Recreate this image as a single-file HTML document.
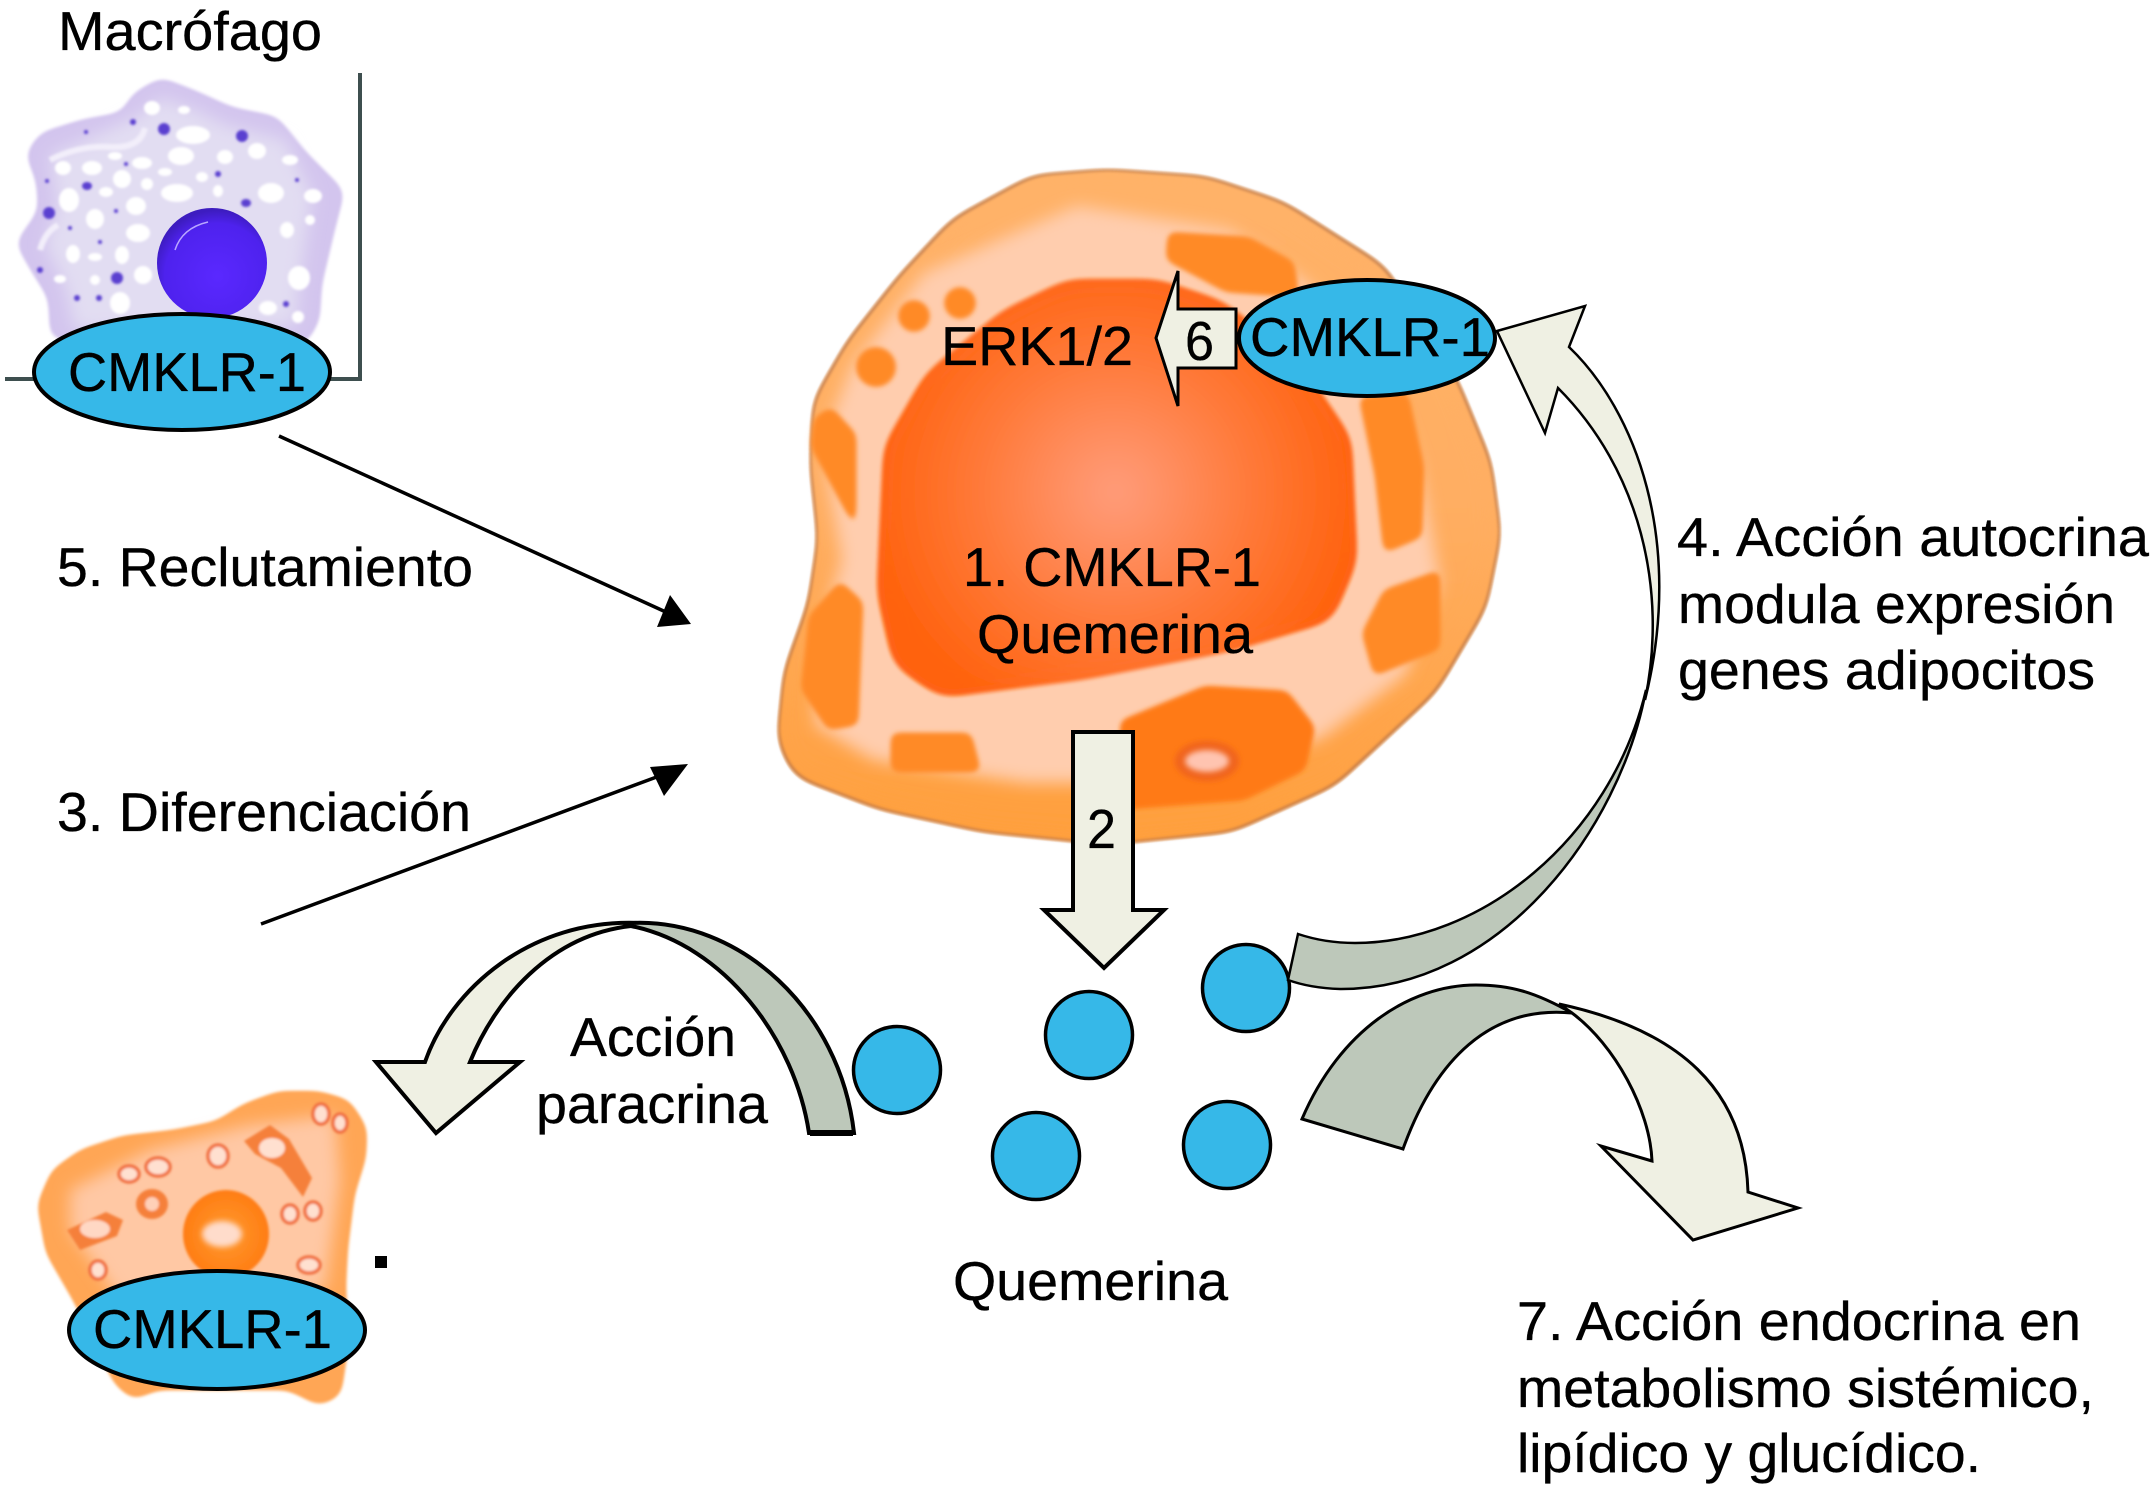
<!DOCTYPE html>
<html><head><meta charset="utf-8"><style>
html,body{margin:0;padding:0;background:#fff}
svg{display:block}
text{font-family:"Liberation Sans",sans-serif;font-size:55px;fill:#000;stroke:#000;stroke-width:.35px}
</style></head><body>
<svg xmlns="http://www.w3.org/2000/svg" width="2153" height="1486" viewBox="0 0 2153 1486">
<defs>
<filter id="r" x="-10%" y="-10%" width="120%" height="120%"><feGaussianBlur stdDeviation="13"/><feComponentTransfer><feFuncA type="linear" slope="6" intercept="-2.2"/></feComponentTransfer><feGaussianBlur stdDeviation="1"/></filter>
<filter id="rim" x="-10%" y="-10%" width="120%" height="120%"><feGaussianBlur stdDeviation="13"/><feComponentTransfer result="s"><feFuncA type="linear" slope="8" intercept="-3"/></feComponentTransfer><feMorphology in="s" operator="erode" radius="2" result="e"/><feFlood flood-color="#a5684a" flood-opacity=".75"/><feComposite in2="s" operator="in" result="d"/><feComposite in="d" in2="e" operator="out" result="edge"/><feGaussianBlur in="edge" stdDeviation=".7" result="eb"/><feMerge><feMergeNode in="s"/><feMergeNode in="eb"/></feMerge></filter>
<filter id="r2" x="-10%" y="-10%" width="120%" height="120%"><feGaussianBlur stdDeviation="8"/><feComponentTransfer><feFuncA type="linear" slope="6" intercept="-2.2"/></feComponentTransfer><feGaussianBlur stdDeviation="1"/></filter>
<filter id="rs" x="-30%" y="-30%" width="160%" height="160%"><feGaussianBlur stdDeviation="5"/><feComponentTransfer><feFuncA type="linear" slope="5" intercept="-1.8"/></feComponentTransfer><feGaussianBlur stdDeviation="2"/></filter>
<filter id="b1" x="-50%" y="-50%" width="200%" height="200%"><feGaussianBlur stdDeviation="1.4"/></filter>
<filter id="b3" x="-50%" y="-50%" width="200%" height="200%"><feGaussianBlur stdDeviation="3"/></filter>
<filter id="b8" x="-20%" y="-20%" width="140%" height="140%"><feGaussianBlur stdDeviation="8"/></filter>
<radialGradient id="nuc" gradientUnits="userSpaceOnUse" cx="1113" cy="489" r="255"><stop offset="0" stop-color="#ff9d7c"/><stop offset="0.55" stop-color="#ff7a3a"/><stop offset="1" stop-color="#ff620e"/></radialGradient>
<radialGradient id="mn" cx="0.55" cy="0.62" r="0.6"><stop offset="0" stop-color="#5a28ff"/><stop offset="0.8" stop-color="#4e22ee"/><stop offset="1" stop-color="#3d1cc0"/></radialGradient>
<radialGradient id="sm" cx="0.5" cy="0.5" r="0.55"><stop offset="0" stop-color="#ff9a30"/><stop offset="1" stop-color="#ff7a10"/></radialGradient>
<linearGradient id="rg" x1="0" y1="0" x2="0" y2="1"><stop offset="0" stop-color="#ffb268"/><stop offset="0.5" stop-color="#ffae62"/><stop offset="1" stop-color="#ff9f3c"/></linearGradient>
</defs>

<!-- macrophage frame -->
<path d="M360 73V379H5" fill="none" stroke="#3e4f4f" stroke-width="4"/>
<!-- macrophage cell -->
<polygon filter="url(#r2)" fill="#d3c5ee" points="161,78 133,94 122,113 83,120 41,133 26,154 37,181 39,211 16,243 32,271 49,298 51,339 305,344 319,321 321,285 333,234 344,191 305,152 277,117 232,108 197,92"/>
<polygon filter="url(#b8)" fill="#e2ddf2" points="161,98 140,115 90,138 50,155 58,205 45,245 65,285 75,330 295,325 300,280 312,195 285,140 225,125 195,110"/>
<g fill="#fff" stroke="#fff" stroke-width="2" filter="url(#b1)">
<ellipse cx="193" cy="135" rx="16" ry="8"/><ellipse cx="181" cy="156" rx="12" ry="8"/><ellipse cx="92" cy="168" rx="9" ry="6"/><ellipse cx="63" cy="168" rx="7" ry="6"/><ellipse cx="122" cy="179" rx="8" ry="8"/><ellipse cx="142" cy="163" rx="9" ry="5"/><ellipse cx="225" cy="157" rx="7" ry="6"/><ellipse cx="257" cy="151" rx="8" ry="7"/><ellipse cx="290" cy="160" rx="7" ry="4"/><ellipse cx="177" cy="193" rx="15" ry="8"/><ellipse cx="271" cy="193" rx="12" ry="9"/><ellipse cx="313" cy="196" rx="8" ry="6"/><ellipse cx="69" cy="200" rx="9" ry="11"/><ellipse cx="136" cy="206" rx="9" ry="8"/><ellipse cx="95" cy="219" rx="8" ry="9"/><ellipse cx="138" cy="233" rx="11" ry="8"/><ellipse cx="73" cy="254" rx="6" ry="8"/><ellipse cx="122" cy="255" rx="6" ry="8"/><ellipse cx="143" cy="275" rx="8" ry="8"/><ellipse cx="287" cy="230" rx="6" ry="7"/><ellipse cx="299" cy="278" rx="10" ry="11"/><ellipse cx="268" cy="308" rx="8" ry="6"/><ellipse cx="120" cy="303" rx="9" ry="10"/><ellipse cx="298" cy="317" rx="5" ry="5"/><ellipse cx="60" cy="279" rx="5" ry="3"/><ellipse cx="95" cy="280" rx="4" ry="4"/><ellipse cx="218" cy="191" rx="4" ry="5"/><ellipse cx="147" cy="184" rx="5" ry="5"/><ellipse cx="106" cy="192" rx="6" ry="4"/><ellipse cx="202" cy="177" rx="5" ry="4"/><ellipse cx="165" cy="172" rx="6" ry="3"/><ellipse cx="152" cy="108" rx="7" ry="6"/><ellipse cx="184" cy="110" rx="5" ry="3"/><ellipse cx="115" cy="156" rx="6" ry="3"/><ellipse cx="310" cy="220" rx="4" ry="4"/><ellipse cx="95" cy="257" rx="6" ry="3"/>
</g>
<path d="M50 160Q80 145 110 147T145 128" fill="none" stroke="#f2eefa" stroke-width="6" filter="url(#b1)"/>
<path d="M40 250Q45 232 58 225" fill="none" stroke="#f2eefa" stroke-width="6" filter="url(#b1)"/>
<g fill="#5a3fd0" filter="url(#b1)">
<circle cx="164" cy="129" r="6"/><circle cx="242" cy="136" r="6"/><circle cx="133" cy="122" r="3"/><ellipse cx="87" cy="186" rx="5" ry="4"/><circle cx="49" cy="213" r="6"/><circle cx="117" cy="278" r="6"/><ellipse cx="246" cy="203" rx="5" ry="4"/><circle cx="218" cy="174" r="3"/><circle cx="126" cy="164" r="2"/><circle cx="47" cy="181" r="2"/><circle cx="86" cy="132" r="2"/><circle cx="70" cy="228" r="2"/><circle cx="40" cy="270" r="3"/><circle cx="77" cy="298" r="3"/><circle cx="99" cy="298" r="3"/><circle cx="286" cy="304" r="3"/><circle cx="297" cy="180" r="2"/><circle cx="100" cy="242" r="2"/><circle cx="116" cy="211" r="2"/>
</g>
<circle cx="212" cy="263" r="55" fill="url(#mn)"/>
<path d="M175 250Q182 228 208 222" fill="none" stroke="#b9a6ff" stroke-width="1.5"/>
<ellipse cx="182" cy="372" rx="148" ry="58" fill="#36b8e8" stroke="#000" stroke-width="4"/>

<!-- main adipocyte -->
<g transform="translate(1139,507) scale(.97,.984) translate(-1136,-508)">
<polygon filter="url(#rim)" fill="url(#rg)" points="1103,166 1026,172 944,216 889,274 836,340 801,400 798,466 806,540 796,606 771,675 764,745 781,781 868,814 975,837 1103,850 1232,837 1338,790 1442,695 1493,610 1508,536 1498,462 1463,378 1389,264 1285,199 1205,173"/>
</g>
<polygon filter="url(#b8)" fill="#ffcdae" points="1077,206 1230,230 1307,283 1383,366 1419,466 1440,582 1405,675 1322,738 1179,783 1026,783 873,760 815,725 815,652 842,559 822,443 852,366 924,273"/>
<g fill="#ff8a26" filter="url(#rs)">
<polygon points="1168,232 1249,237 1294,262 1299,297 1226,292 1166,260"/>
<polygon points="1359,397 1408,393 1424,466 1422,537 1384,553 1375,475"/>
<polygon points="1440,570 1440,649 1374,676 1362,633 1384,590"/>
<polygon points="831,407 856,434 856,530 811,447 814,418"/>
<polygon points="840,581 863,602 858,725 828,730 801,689 809,616"/>
<polygon points="891,733 971,733 981,772 891,772"/>
<circle cx="960" cy="303" r="16"/><circle cx="914" cy="316" r="16"/><circle cx="876" cy="367" r="20"/>
</g>
<polygon filter="url(#rs)" fill="#ff7a14" points="1120,721 1205,686 1287,691 1315,727 1305,770 1244,800 1125,809"/>
<ellipse cx="1207" cy="761" rx="32" ry="20" fill="#f0641a" filter="url(#b3)"/>
<ellipse cx="1207" cy="761" rx="22" ry="11" fill="#ffc4b0" filter="url(#b3)"/>
<g transform="translate(1119,487) scale(.953,.944) translate(-1117,-484)">
<polygon filter="url(#r)" fill="url(#nuc)" points="1063,265 1158,265 1226,288 1306,352 1360,432 1366,563 1340,625 1234,657 1079,687 930,706 881,672 864,596 871,441 915,364 995,298"/>
</g>

<!-- small cell -->
<g transform="translate(203.5,1246) scale(.964,.97) translate(-203,-1244)">
<polygon filter="url(#r2)" fill="#ffa654" points="281,1085 323,1085 354,1094 372,1122 371,1153 359,1191 352,1247 350,1286 353,1344 345,1398 323,1408 291,1392 155,1392 130,1402 111,1386 69,1301 40,1251 31,1201 46,1166 76,1145 119,1131 172,1125 216,1116 245,1098"/>
</g>
<polygon filter="url(#b8)" fill="#ffc8a4" points="250,1125 335,1115 340,1180 325,1290 120,1300 70,1230 70,1190 150,1150"/>
<ellipse cx="226" cy="1234" rx="43" ry="44" fill="url(#sm)" filter="url(#b1)"/>
<ellipse cx="222" cy="1234" rx="20" ry="13" fill="#ffdccb" filter="url(#b3)"/>
<g filter="url(#b1)">
<polygon points="244,1141 270,1125 289,1139 312,1178 303,1197 281,1168 255,1154" fill="#f5803a"/>
<ellipse cx="272" cy="1148" rx="13" ry="10" fill="#ffe0d0"/>
<polygon points="67,1230 106,1212 123,1220 117,1236 80,1250" fill="#f5803a"/>
<ellipse cx="95" cy="1229" rx="15" ry="9" fill="#ffd8c4"/>
<ellipse cx="152" cy="1204" rx="16" ry="15" fill="#f5803a"/><ellipse cx="152" cy="1204" rx="7" ry="7" fill="#ffd0b8"/>
<g fill="#ffe0d0" stroke="#f07040" stroke-width="3.5">
<ellipse cx="129" cy="1174" rx="10" ry="8"/><ellipse cx="158" cy="1167" rx="12" ry="9"/><ellipse cx="218" cy="1156" rx="10" ry="11"/><ellipse cx="321" cy="1114" rx="8" ry="10"/><ellipse cx="340" cy="1123" rx="7" ry="9"/><ellipse cx="290" cy="1214" rx="8" ry="9"/><ellipse cx="313" cy="1211" rx="8" ry="9"/><ellipse cx="309" cy="1265" rx="11" ry="8"/><ellipse cx="98" cy="1270" rx="8" ry="9"/>
</g>
</g>
<ellipse cx="217" cy="1330" rx="148" ry="59" fill="#36b8e8" stroke="#000" stroke-width="4"/>
<rect x="375" y="1256" width="12" height="12" fill="#000"/>

<!-- block arrow 6 -->
<polygon points="1156,338 1178,271 1178,309 1236,309 1236,368 1178,368 1178,406" fill="#eff0e3" stroke="#000" stroke-width="3" stroke-linejoin="miter"/>
<ellipse cx="1367" cy="338" rx="128" ry="58" fill="#36b8e8" stroke="#000" stroke-width="4"/>
<!-- block arrow 2 -->
<polygon points="1073,732 1133,732 1133,910 1164,910 1104,968 1044,910 1073,910" fill="#eff0e3" stroke="#000" stroke-width="4"/>

<!-- circles -->
<g fill="#36b8e8" stroke="#000" stroke-width="3.5">
<circle cx="897" cy="1070" r="43.5"/><circle cx="1089" cy="1035" r="43.5"/><circle cx="1246" cy="988" r="43.5"/><circle cx="1036" cy="1156" r="43.5"/><circle cx="1227" cy="1145" r="43.5"/>
</g>

<!-- paracrine -->
<g stroke="#000" stroke-width="4" stroke-linejoin="miter">
<path d="M631,926 C550,935 495,1000 470,1062 L520,1062 L436,1133 L376,1062 L425,1062 C450,990 530,918 640,923 Z" fill="#eff0e3"/>
<path d="M631,923 C740,918 840,1010 854,1133 L809,1133 C795,1040 725,945 631,926 Z" fill="#bdc8ba"/>
<path d="M810,1133H853" stroke-width="6"/>
</g>

<!-- autocrine -->
<g stroke="#000" stroke-width="2.5">
<path d="M1497,331 L1585,306 L1569,347 C1635,410 1685,540 1645,700 C1668,590 1640,470 1558,388 L1545,433 Z" fill="#eff0e3"/>
<path d="M1646,690 C1620,830 1500,990 1340,989 Q1310,988 1288,980 L1298,934 Q1325,943 1355,943 C1480,943 1610,840 1646,690 Z" fill="#bdc8ba"/>
</g>

<!-- endocrine -->
<g stroke="#000" stroke-width="3">
<path d="M1559,1004 C1680,1030 1745,1090 1748,1192 L1798,1208 L1693,1240 L1601,1146 L1652,1161 C1650,1110 1615,1045 1572,1013 Z" fill="#eff0e3"/>
<path d="M1302,1119 C1340,1030 1410,985 1476,985 C1510,985 1535,992 1572,1013 C1490,1005 1435,1060 1403,1149 Z" fill="#bdc8ba"/>
</g>

<!-- thin arrows -->
<line x1="279" y1="436" x2="668" y2="613" stroke="#000" stroke-width="3.5"/>
<polygon points="691,624 670,595 657,627" fill="#000"/>
<line x1="261" y1="924" x2="662" y2="775" stroke="#000" stroke-width="3.5"/>
<polygon points="688,764 650,767 664,796" fill="#000"/>

<!-- labels -->
<text x="58" y="50" textLength="264" lengthAdjust="spacingAndGlyphs">Macrófago</text>
<text x="68" y="391" textLength="238" lengthAdjust="spacingAndGlyphs">CMKLR-1</text>
<text x="57" y="586" textLength="416" lengthAdjust="spacingAndGlyphs">5. Reclutamiento</text>
<text x="57" y="831" textLength="414" lengthAdjust="spacingAndGlyphs">3. Diferenciación</text>
<text x="941" y="365" textLength="192" lengthAdjust="spacingAndGlyphs">ERK1/2</text>
<text x="1185" y="360" textLength="29" lengthAdjust="spacingAndGlyphs">6</text>
<text x="1250" y="356" textLength="240" lengthAdjust="spacingAndGlyphs">CMKLR-1</text>
<text x="963" y="586" textLength="298" lengthAdjust="spacingAndGlyphs">1. CMKLR-1</text>
<text x="977" y="653" textLength="276" lengthAdjust="spacingAndGlyphs">Quemerina</text>
<text x="1087" y="848" textLength="29" lengthAdjust="spacingAndGlyphs">2</text>
<text x="570" y="1056" textLength="166" lengthAdjust="spacingAndGlyphs">Acción</text>
<text x="536" y="1123" textLength="232" lengthAdjust="spacingAndGlyphs">paracrina</text>
<text x="93" y="1348" textLength="239" lengthAdjust="spacingAndGlyphs">CMKLR-1</text>
<text x="953" y="1300" textLength="275" lengthAdjust="spacingAndGlyphs">Quemerina</text>
<text x="1677" y="556" textLength="472" lengthAdjust="spacingAndGlyphs">4. Acción autocrina</text>
<text x="1678" y="623" textLength="437" lengthAdjust="spacingAndGlyphs">modula expresión</text>
<text x="1678" y="689" textLength="417" lengthAdjust="spacingAndGlyphs">genes adipocitos</text>
<text x="1517" y="1340" textLength="564" lengthAdjust="spacingAndGlyphs">7. Acción endocrina en</text>
<text x="1517" y="1407" textLength="577" lengthAdjust="spacingAndGlyphs">metabolismo sistémico,</text>
<text x="1517" y="1472" textLength="464" lengthAdjust="spacingAndGlyphs">lipídico y glucídico.</text>
</svg>
</body></html>
